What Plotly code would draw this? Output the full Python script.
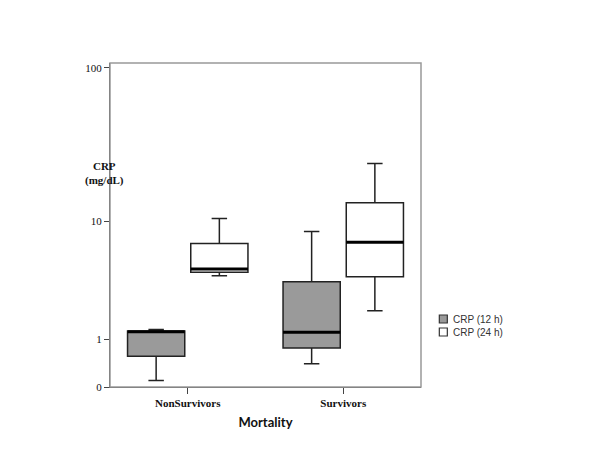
import numpy as np
import plotly.graph_objects as go

categories = ["NonSurvivors", "Survivors"]
series_names = ["CRP (12 h)", "CRP (24 h)"]

# box statistics in mg/dL: [NonSurvivors, Survivors]
crp12_min = [0.10, 0.40]
crp12_q1 = [0.56, 0.76]
crp12_med = [1.22, 1.21]
crp12_q3 = [1.25, 3.59]
crp12_max = [1.30, 8.48]

crp24_min = [4.0, 2.01]
crp24_q1 = [4.25, 3.93]
crp24_med = [4.5, 7.12]
crp24_q3 = [6.96, 13.37]
crp24_max = [10.45, 24.3]

tick_values = [0, 1, 10, 100]
tick_labels = ["0", "1", "10", "100"]
series_colors = ["#9a9a9a", "#ffffff"]


def tr(v):
    return list(np.log10(np.array(v, dtype=float) + 1))


# plot area in window pixels (page has 8px body margin)
PL, PR, PT, PB = 110, 420.7, 63, 387
PW, PH = PR - PL, PB - PT


def px(x):
    return (x - PL) / PW


def py(y):
    return (PB - y) / PH


fig = go.Figure()
specs = [
    (series_names[0], crp12_min, crp12_q1, crp12_med, crp12_q3, crp12_max, series_colors[0], "g12"),
    (series_names[1], crp24_min, crp24_q1, crp24_med, crp24_q3, crp24_max, series_colors[1], "g24"),
]
for name, mn, q1, md, q3, mx, col, og in specs:
    fig.add_trace(go.Box(
        name=name, x=categories, lowerfence=tr(mn), q1=tr(q1), median=tr(md),
        q3=tr(q3), upperfence=tr(mx), fillcolor=col,
        line=dict(color="#222222", width=1.5), whiskerwidth=0.27,
        offsetgroup=og, alignmentgroup="a", hoverinfo="skip", showlegend=False,
    ))
for name, mn, q1, md, q3, mx, col, og in specs:
    fig.add_trace(go.Box(
        name=name + " median", x=categories, lowerfence=tr(md), q1=tr(md),
        median=tr(md), q3=tr(md), upperfence=tr(md),
        fillcolor="rgba(0,0,0,0)", line=dict(color="#000000", width=3),
        whiskerwidth=0, offsetgroup=og, alignmentgroup="a",
        showlegend=False, hoverinfo="skip",
    ))

shapes = [
    dict(type="rect", xref="paper", yref="paper", x0=0, x1=1, y0=0, y1=1,
         line=dict(color="#999999", width=1.5), fillcolor="rgba(0,0,0,0)"),
]
annotations = [
    dict(text="<b>CRP<br>(mg/dL)</b>", xref="paper", yref="paper",
         x=px(83), y=py(173), showarrow=False,
         font=dict(family="Liberation Serif", size=11, color="#111111")),
]
# custom legend
for i, (name, col) in enumerate(zip(series_names, series_colors)):
    cy = 319 + 13 * i
    shapes.append(dict(type="rect", xref="paper", yref="paper",
                       x0=px(439), x1=px(447), y0=py(cy + 4), y1=py(cy - 4),
                       line=dict(color="#333333", width=1.2), fillcolor=col))
    annotations.append(dict(text=name, xref="paper", yref="paper",
                            x=px(451), y=py(cy), xanchor="left", yanchor="middle",
                            showarrow=False,
                            font=dict(family="Liberation Sans", size=10, color="#333333")))

fig.update_layout(
    width=592, height=442,
    margin=dict(l=PL - 8, r=592 - (PR - 8), t=PT - 8, b=442 - (PB - 8)),
    paper_bgcolor="white", plot_bgcolor="white",
    boxmode="group", boxgap=0.187, boxgroupgap=0.095,
    showlegend=False,
    xaxis=dict(
        type="category", range=[-0.5, 1.5], showgrid=False,
        showline=True, linecolor="#444444", linewidth=1,
        ticks="outside", ticklen=6, tickcolor="#444444",
        tickvals=categories, ticktext=["<b>" + c + "</b>" for c in categories],
        tickfont=dict(family="Liberation Serif", size=11, color="#111111"),
        title=dict(text="<b>Mortality</b>", standoff=9,
                   font=dict(family="Lato", size=13, color="#111111")),
    ),
    yaxis=dict(
        range=[0, 2.035], showgrid=False, zeroline=False,
        showline=True, linecolor="#444444", linewidth=1,
        tickmode="array", tickvals=tr(tick_values), ticktext=tick_labels,
        ticks="outside", ticklen=5, tickcolor="#444444",
        tickfont=dict(family="Liberation Serif", size=11, color="#111111"),
    ),
    shapes=shapes,
    annotations=annotations,
)

fig.write_html("out.html")
